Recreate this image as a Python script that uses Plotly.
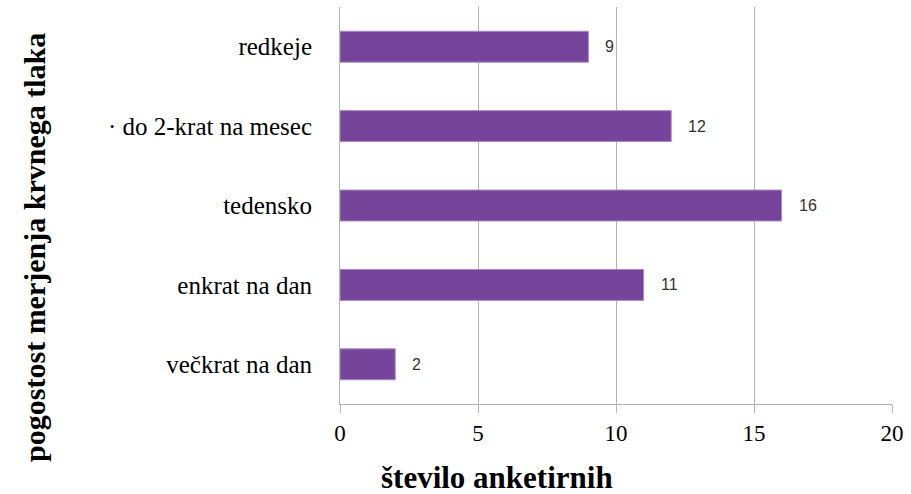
import plotly.graph_objects as go

categories = ["večkrat na dan", "enkrat na dan", "tedensko", "· do 2-krat na mesec", "redkeje"]
values = [2, 11, 16, 12, 9]
x_ticks = [0, 5, 10, 15, 20]
x_title = "število anketirnih"
y_title = "pogostost merjenja krvnega tlaka"

bar_color = "#76449A"
grid_color = "#B4B4B4"

PW, PH = 559, 397  # plot area size in px
def px_x(wx):  # window x -> paper x
    return (wx - 340) / PW
def px_y(wy):  # window y -> paper y
    return (404 - wy) / PH

fig = go.Figure()
fig.add_trace(go.Bar(
    x=values, y=categories, orientation="h",
    marker=dict(color=bar_color, line=dict(color="#A88CC4", width=1)),
    hoverinfo="skip",
))

for c, v in zip(categories, values):
    fig.add_annotation(x=v, y=c, text=str(v), showarrow=False,
                       xanchor="left", yanchor="middle", xshift=15,
                       font=dict(family="Liberation Sans", size=16, color="#333333"))

fig.add_annotation(xref="paper", yref="paper", x=px_x(30), y=px_y(247),
                   text="<b>" + y_title + "</b>", textangle=-90, showarrow=False,
                   xanchor="center", yanchor="middle",
                   font=dict(family="Liberation Serif", size=30, color="black"))
fig.add_annotation(xref="paper", yref="paper", x=px_x(499), y=px_y(477),
                   text="<b>" + x_title + "</b>", showarrow=False,
                   xanchor="center", yanchor="middle",
                   font=dict(family="Liberation Serif", size=31, color="black"))

fig.update_layout(
    width=911, height=494,
    margin=dict(l=340, r=12, t=7, b=90, pad=0),
    paper_bgcolor="white", plot_bgcolor="white",
    bargap=0.61,
    showlegend=False,
    xaxis=dict(range=[0, 20], tickvals=x_ticks, ticktext=[str(t) for t in x_ticks],
               showgrid=True, gridcolor=grid_color, gridwidth=1,
               showline=True, linecolor=grid_color, linewidth=1,
               ticks="outside", ticklen=8, tickcolor=grid_color,
               zeroline=False,
               tickfont=dict(family="Liberation Serif", size=23, color="black")),
    yaxis=dict(showline=True, linecolor=grid_color, linewidth=1,
               showgrid=False, ticks="", ticklabelstandoff=22,
               tickfont=dict(family="Liberation Serif", size=25, color="black")),
)

fig.write_html("out.html", config={"displayModeBar": False},
               post_script="document.body.style.margin='0';document.body.style.overflow='hidden';")
